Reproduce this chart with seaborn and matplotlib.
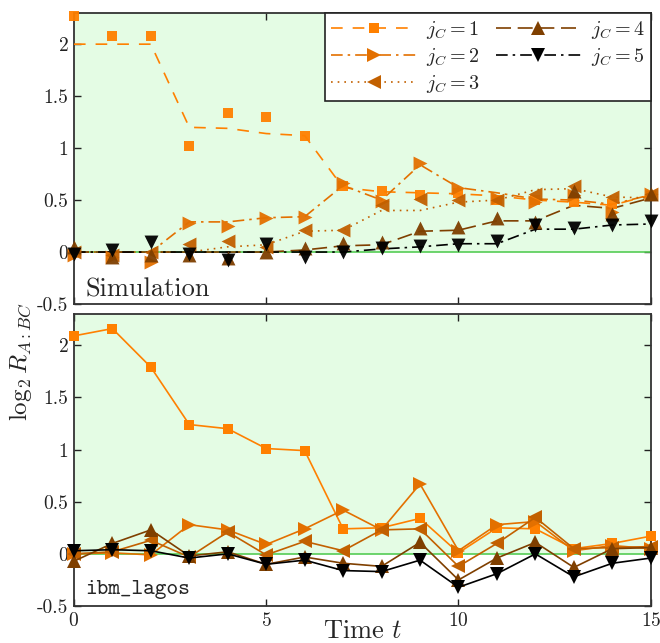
import numpy as np
import pandas as pd
import seaborn as sns
import matplotlib
matplotlib.use("Agg")
import matplotlib.pyplot as plt
from matplotlib.lines import Line2D

# ---------------- data ----------------
t = list(range(16))

# Simulation panel: markers (simulated) and lines (reference curves)
sim_j1 = [2.27, 2.08, 2.08, 1.02, 1.34, 1.30, 1.12, 0.64, 0.59, 0.55, 0.57, 0.50, 0.50, 0.48, 0.46, 0.54]
sim_j2 = [-0.03, -0.05, -0.10, 0.28, 0.25, 0.33, 0.34, 0.66, 0.49, 0.86, 0.62, 0.52, 0.48, 0.55, 0.39, 0.56]
sim_j3 = [0.00, -0.03, 0.00, 0.08, 0.11, 0.05, 0.21, 0.21, 0.45, 0.51, 0.50, 0.50, 0.56, 0.64, 0.53, 0.56]
sim_j4 = [0.05, -0.05, -0.03, -0.03, -0.06, 0.00, 0.04, 0.09, 0.10, 0.23, 0.24, 0.33, 0.29, 0.59, 0.37, 0.56]
sim_j5 = [-0.02, 0.02, 0.10, -0.02, -0.08, 0.08, -0.05, 0.00, 0.04, 0.06, 0.07, 0.11, 0.26, 0.23, 0.26, 0.30]

line_j1 = [2.00, 2.00, 2.00, 1.20, 1.19, 1.14, 1.12, 0.62, 0.58, 0.57, 0.56, 0.54, 0.50, 0.48, 0.45, 0.55]
line_j2 = [0.00, 0.00, 0.00, 0.29, 0.29, 0.33, 0.34, 0.64, 0.50, 0.84, 0.62, 0.57, 0.51, 0.50, 0.46, 0.55]
line_j3 = [0.00, 0.00, 0.00, 0.00, 0.05, 0.07, 0.20, 0.21, 0.40, 0.40, 0.48, 0.50, 0.60, 0.61, 0.53, 0.52]
line_j4 = [0.00, 0.00, 0.00, 0.00, 0.00, 0.00, 0.02, 0.06, 0.07, 0.20, 0.21, 0.30, 0.30, 0.45, 0.42, 0.52]
line_j5 = [0.00, 0.00, 0.00, 0.00, 0.00, 0.00, 0.00, 0.00, 0.03, 0.05, 0.08, 0.08, 0.22, 0.22, 0.26, 0.27]

# ibm_lagos panel
dev_j1 = [2.09, 2.16, 1.79, 1.24, 1.20, 1.01, 0.99, 0.24, 0.25, 0.34, 0.01, 0.25, 0.24, 0.05, 0.10, 0.17]
dev_j2 = [0.00, 0.01, -0.01, 0.28, 0.23, 0.09, 0.24, 0.42, 0.23, 0.67, 0.03, 0.28, 0.31, 0.03, 0.08, 0.05]
dev_j3 = [0.00, 0.02, 0.13, -0.03, 0.21, -0.01, 0.12, 0.03, 0.23, 0.24, -0.12, 0.10, 0.35, 0.05, 0.06, 0.07]
dev_j4 = [-0.07, 0.10, 0.23, -0.02, 0.02, -0.10, -0.03, -0.09, -0.12, 0.11, -0.25, -0.04, 0.11, -0.13, 0.05, 0.06]
dev_j5 = [0.03, 0.04, 0.03, -0.04, 0.00, -0.10, -0.06, -0.16, -0.17, -0.06, -0.32, -0.19, 0.00, -0.22, -0.09, -0.04]

labels = [r"$j_C=1$", r"$j_C=2$", r"$j_C=3$", r"$j_C=4$", r"$j_C=5$"]
yticks = [-0.5, 0, 0.5, 1, 1.5, 2]
ytick_labels = ["-0.5", "0", "0.5", "1", "1.5", "2"]
xticks = [0, 5, 10, 15]

# ---------------- style ----------------
sns.set_style("ticks")
plt.rcParams.update({
    "font.family": ["cmr10", "DejaVu Serif"],
    "mathtext.fontset": "cm",
    "axes.unicode_minus": False,
    "axes.formatter.use_mathtext": True,
    "axes.edgecolor": "#333333",
    "axes.linewidth": 1.3,
})

colors = ["#ff8000", "#e37000", "#c26000", "#7f3f00", "#000000"]
markers = ["s", ">", "<", "^", "v"]
msizes = [7, 10, 10, 10, 10]
lstyles = [(0, (7, 6)), (0, (7, 3, 1.5, 3)), (0, (1, 3)), (0, (9, 4)), (0, (7, 3, 1.5, 3))]
fill_color = "#e4fce4"
zero_color = "#55cc55"

fig = plt.figure(figsize=(6.6, 6.43), dpi=100)
ax1 = fig.add_axes([0.112, 0.5272, 0.874, 0.4526])
ax2 = fig.add_axes([0.112, 0.0575, 0.874, 0.4542])

sims = [sim_j1, sim_j2, sim_j3, sim_j4, sim_j5]
lines = [line_j1, line_j2, line_j3, line_j4, line_j5]
devs = [dev_j1, dev_j2, dev_j3, dev_j4, dev_j5]

for ax in (ax1, ax2):
    ax.set_xlim(0, 15)
    ax.set_ylim(-0.5, 2.3)
    ax.axhspan(0, 2.3, color=fill_color, zorder=0, lw=0)
    ax.axhline(0, color=zero_color, lw=1.2, zorder=1)
    ax.set_yticks(yticks)
    ax.set_yticklabels(ytick_labels)
    ax.set_xticks(xticks)
    ax.tick_params(direction="in", top=True, right=True, length=5, width=1,
                   labelsize=14, pad=4, colors="#222222")
    ax.set_ylabel("")

# top panel
for i in range(5):
    sns.lineplot(x=t, y=lines[i], ax=ax1, color=colors[i], linestyle=lstyles[i],
                 lw=1.2, zorder=3, legend=False)
    sns.scatterplot(x=t, y=sims[i], ax=ax1, color=colors[i], marker=markers[i],
                    s=msizes[i] ** 2, linewidth=0, zorder=4, legend=False,
                    alpha=0.95, clip_on=False)
ax1.tick_params(labelbottom=False)
ax1.set_xlabel("")

# bottom panel
for i in range(5):
    sns.lineplot(x=t, y=devs[i], ax=ax2, color=colors[i], linestyle="-", lw=1.2,
                 marker=markers[i], markersize=msizes[i], markeredgewidth=0,
                 zorder=3 + i * 0.1, legend=False, clip_on=False)

ax1.text(0.02, 0.01, "Simulation", transform=ax1.transAxes, fontsize=19,
         ha="left", va="bottom")
ax2.text(0.02, 0.025, "ibm_lagos", transform=ax2.transAxes, fontsize=16,
         ha="left", va="bottom", family=["cmtt10", "DejaVu Sans Mono"])

ax2.set_xlabel(r"Time $t$", fontsize=19)
ax2.xaxis.set_label_coords(0.5, -0.045)
ax2.xaxis.label.set_va("top")

fig.text(0.031, 1 - 362 / 643, r"$\log_2 R_{A:BC}$", rotation=90, fontsize=18,
         ha="center", va="center")

# legend
handles = [Line2D([], [], color=colors[i], linestyle=lstyles[i], lw=1.2,
                  marker=markers[i], markersize=msizes[i], markeredgewidth=0)
           for i in range(5)]
leg = ax1.legend(handles, labels, loc="upper right", ncol=2, fontsize=14.5,
                 frameon=True, fancybox=False, framealpha=1, edgecolor="#222222",
                 borderaxespad=0, handlelength=4.2, columnspacing=0.8,
                 handletextpad=0.5, labelspacing=0.25, borderpad=0.3)
leg.get_frame().set_linewidth(1.2)
leg.set_zorder(10)

fig.savefig("out.png", dpi=100)
